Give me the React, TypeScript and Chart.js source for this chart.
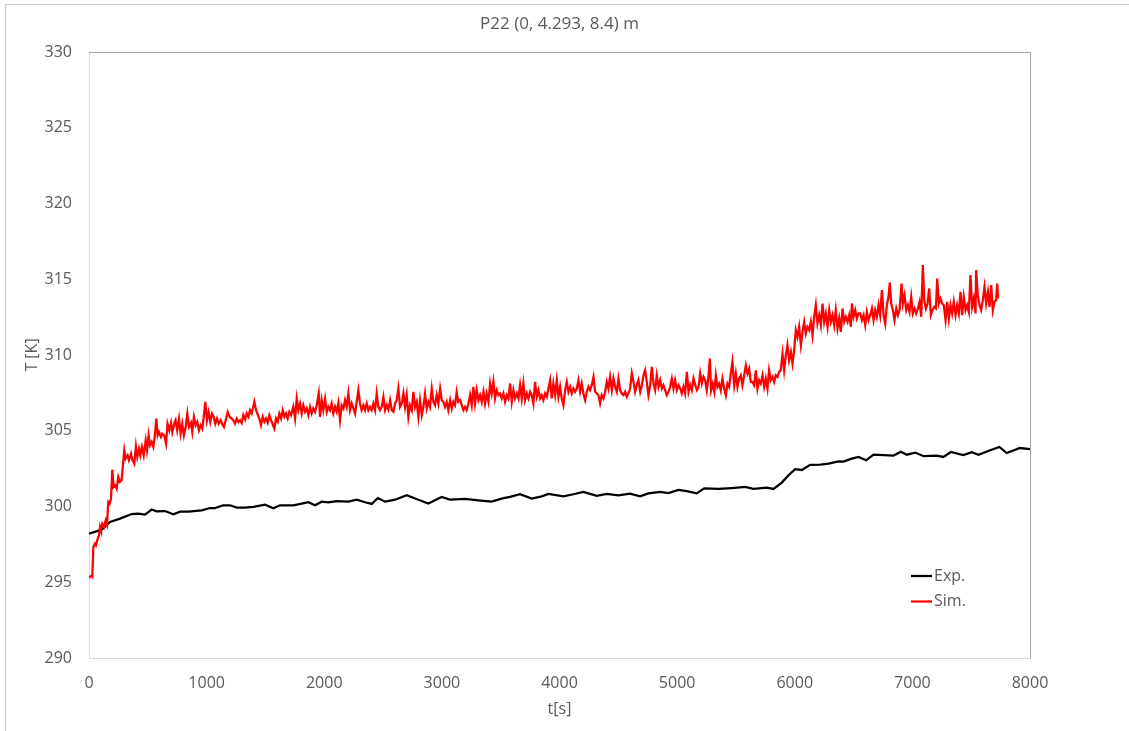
import React, { useEffect, useRef } from "react";
import { Chart, registerables } from "chart.js";

Chart.register(...registerables);

const chartTitle = "P22 (0, 4.293, 8.4) m";
const xAxisTitle = "t[s]";
const yAxisTitle = "T [K]";
const seriesNames = ["Exp.", "Sim."];
const seriesColors = ["#000000", "#ff0000"];
const xTickValues = [0, 1000, 2000, 3000, 4000, 5000, 6000, 7000, 8000];
const yTickValues = [290, 295, 300, 305, 310, 315, 320, 325, 330];

// Experimental temperature [t (s), T (K)]
const expPoints: [number, number][] = [
  [0, 298.21], [108, 298.47], [179, 298.98], [264, 299.2], [363, 299.5], [420, 299.53], [476, 299.46],
  [533, 299.8], [575, 299.68], [646, 299.7], [717, 299.49], [774, 299.66], [845, 299.66], [958, 299.75],
  [1029, 299.9], [1071, 299.9], [1142, 300.08], [1199, 300.08], [1256, 299.93], [1326, 299.93],
  [1397, 299.97], [1497, 300.12], [1567, 299.88], [1624, 300.08], [1737, 300.08], [1808, 300.19],
  [1865, 300.28], [1922, 300.08], [1978, 300.32], [2035, 300.28], [2106, 300.36], [2205, 300.32],
  [2276, 300.45], [2347, 300.28], [2404, 300.17], [2455, 300.56], [2517, 300.32], [2574, 300.41],
  [2602, 300.45], [2701, 300.74], [2800, 300.45], [2885, 300.19], [2998, 300.63], [3069, 300.45],
  [3197, 300.5], [3310, 300.41], [3423, 300.32], [3508, 300.52], [3579, 300.63], [3664, 300.81],
  [3764, 300.52], [3849, 300.67], [3906, 300.83], [4033, 300.67], [4118, 300.81], [4203, 300.96],
  [4317, 300.7], [4402, 300.83], [4500, 300.74], [4600, 300.85], [4685, 300.67], [4756, 300.87],
  [4855, 300.96], [4926, 300.89], [5011, 301.09], [5082, 301.02], [5167, 300.87], [5230, 301.2],
  [5351, 301.16], [5465, 301.22], [5578, 301.29], [5649, 301.16], [5762, 301.25], [5819, 301.16],
  [5890, 301.58], [5947, 302.06], [6003, 302.46], [6060, 302.41], [6131, 302.75], [6216, 302.77],
  [6287, 302.83], [6372, 302.98], [6414, 302.97], [6485, 303.16], [6542, 303.27], [6607, 303.05],
  [6670, 303.42], [6840, 303.36], [6902, 303.62], [6953, 303.42], [7024, 303.56], [7095, 303.32],
  [7208, 303.36], [7264, 303.27], [7327, 303.6], [7434, 303.4], [7505, 303.58], [7562, 303.42],
  [7661, 303.71], [7740, 303.93], [7802, 303.53], [7915, 303.86], [8000, 303.78],
];

// Simulated temperature [t (s), T (K)], in parts
const simPart1: [number, number][] = [
  [0, 295.3], [23, 295.45], [28, 295.39], [37, 297.33], [51, 297.55], [59, 297.44], [74, 297.88],
  [85, 298.1], [94, 298.65], [102, 298.43], [113, 298.87], [127, 298.65], [142, 299.09], [153, 298.82],
  [164, 300.3], [176, 300.19], [187, 300.52], [198, 302.43], [209, 301.29], [221, 301.4], [235, 301.18],
  [249, 301.95], [263, 301.62], [277, 301.73], [300, 303.71], [311, 303.16], [328, 303.38], [340, 303.05],
  [357, 303.49], [368, 303.1], [385, 302.83], [399, 303.98], [411, 303.27], [425, 303.82], [436, 303.38],
  [450, 303.93], [465, 303.38], [482, 304.37], [493, 303.71], [507, 304.7], [518, 304.04], [532, 304.26],
  [547, 303.93], [561, 304.77], [572, 305.8], [584, 304.7], [595, 304.92], [612, 304.59], [623, 304.81],
  [640, 304.7], [655, 304.15], [668, 305.47], [683, 305.03], [697, 305.52], [708, 304.92], [725, 305.47],
  [736, 305.69], [750, 305.03], [765, 305.8], [779, 304.81], [793, 305.47], [807, 304.7], [822, 305.25],
  [836, 306.13], [850, 305.25], [867, 305.52], [878, 304.92], [892, 305.91], [907, 305.36], [921, 305.58],
  [935, 305.03], [949, 305.36], [963, 305.14], [977, 306.02], [989, 306.9], [1003, 305.69], [1017, 306.24],
  [1031, 305.58], [1046, 306.13], [1060, 305.91], [1074, 305.47], [1088, 305.8], [1102, 305.47],
  [1119, 305.69], [1133, 305.43], [1147, 305.25], [1162, 305.69], [1179, 306.24], [1196, 305.91],
  [1213, 305.8], [1227, 305.69], [1241, 305.47], [1256, 305.8], [1270, 305.58],
];
const simPart2: [number, number][] = [
  [1284, 305.7], [1298, 305.52], [1312, 306.03], [1327, 305.74], [1341, 306.14], [1355, 305.92],
  [1369, 306.36], [1383, 306.14], [1406, 306.91], [1420, 306.36], [1431, 306.14], [1448, 305.81],
  [1462, 305.37], [1477, 305.92], [1491, 305.59], [1505, 305.81], [1519, 305.52], [1533, 306.03],
  [1548, 305.7], [1562, 305.43], [1576, 305.15], [1590, 305.81], [1604, 305.59], [1618, 306.14],
  [1633, 305.81], [1647, 306.36], [1661, 305.92], [1675, 306.14], [1689, 305.81], [1703, 306.25],
  [1718, 306.03], [1737, 306.58], [1752, 305.81], [1766, 307.13], [1780, 306.36], [1794, 306.8],
  [1808, 306.14], [1822, 306.69], [1837, 306.25], [1851, 306.47], [1865, 306.03], [1879, 306.58],
  [1893, 306.14], [1907, 306.47], [1922, 306.25], [1936, 306.69], [1953, 307.46], [1964, 305.92],
  [1978, 307.02], [1992, 306.36], [2007, 307.13], [2021, 306.25], [2035, 306.58], [2049, 306.36],
  [2063, 306.8], [2077, 306.14], [2092, 306.58], [2106, 306.25], [2120, 306.84], [2134, 305.7],
  [2148, 306.69], [2163, 306.47], [2177, 307.02], [2191, 306.58], [2205, 307.46], [2219, 306.36],
  [2233, 306.8], [2248, 306.47], [2262, 306.14], [2276, 306.91], [2290, 307.68], [2304, 306.8],
  [2318, 306.36], [2333, 306.69], [2347, 306.36], [2361, 306.8], [2375, 306.36], [2389, 306.58],
  [2403, 306.36], [2418, 306.8], [2432, 306.36], [2446, 307.46], [2460, 306.58], [2474, 306.36],
  [2489, 306.58], [2503, 307.24], [2517, 306.36], [2531, 306.69], [2545, 306.4], [2560, 307.02],
  [2574, 306.36], [2588, 306.25], [2602, 306.8], [2616, 307.02], [2630, 307.79], [2644, 306.58],
];
const simPart3: [number, number][] = [
  [2659, 306.8], [2673, 307.46], [2687, 306.58], [2701, 307.35], [2715, 305.92], [2729, 306.69],
  [2744, 306.36], [2758, 307.57], [2772, 306.58], [2786, 306.91], [2800, 305.92], [2814, 307.02],
  [2829, 306.03], [2843, 306.58], [2857, 307.46], [2871, 306.47], [2885, 306.91], [2899, 306.58],
  [2914, 307.79], [2928, 306.91], [2942, 306.69], [2956, 307.35], [2970, 306.8], [2985, 307.79],
  [2999, 307.02], [3013, 306.91], [3027, 306.58], [3041, 306.91], [3055, 306.36], [3070, 307.02],
  [3084, 306.47], [3098, 306.91], [3112, 306.69], [3126, 307.57], [3140, 306.91], [3155, 307.02],
  [3169, 306.69], [3183, 306.36], [3197, 306.58], [3211, 306.36], [3226, 306.8], [3240, 307.35],
  [3254, 306.69], [3268, 307.9], [3282, 306.8], [3296, 307.68], [3311, 307.02], [3325, 307.35],
  [3339, 306.91], [3353, 307.57], [3367, 306.8], [3381, 307.46], [3396, 306.91], [3410, 308.12],
  [3424, 307.46], [3438, 308.23], [3452, 307.13], [3466, 307.68], [3481, 307.35], [3495, 307.46],
  [3509, 307.13], [3523, 307.46], [3537, 306.91], [3552, 307.35], [3566, 307.13], [3580, 308.12],
  [3594, 306.91], [3608, 307.68], [3622, 307.13], [3637, 307.46], [3651, 307.13], [3665, 308.01],
  [3679, 307.13], [3693, 308.12], [3707, 307.02], [3722, 307.46], [3736, 307.13], [3750, 307.57],
  [3764, 307.35], [3778, 306.8], [3792, 308.23], [3807, 307.24], [3821, 307.68], [3835, 307.13],
  [3849, 307.35], [3863, 307.02], [3878, 307.46], [3892, 307.24], [3906, 307.79],
];
const simPart4: [number, number][] = [
  [3920, 308.34], [3934, 307.13], [3948, 308.12], [3963, 307.35], [3977, 308.34], [3991, 307.24],
  [4005, 307.9], [4019, 307.13], [4033, 306.69], [4048, 307.68], [4062, 308.23], [4076, 307.57],
  [4090, 307.9], [4104, 307.46], [4118, 307.79], [4133, 307.57], [4147, 307.79], [4161, 308.34],
  [4175, 307.57], [4189, 308.12], [4203, 307.46], [4218, 307.02], [4232, 307.57], [4246, 307.9],
  [4260, 307.68], [4274, 308.01], [4289, 308.56], [4303, 307.57], [4317, 307.46], [4331, 307.35],
  [4345, 306.8], [4359, 307.35], [4374, 307.13], [4388, 307.57], [4402, 308.23], [4416, 307.79],
  [4430, 308.56], [4445, 307.68], [4459, 308.45], [4473, 307.9], [4487, 307.57], [4501, 308.45],
  [4515, 307.68], [4530, 307.46], [4544, 307.35], [4558, 307.57], [4572, 307.24], [4586, 307.46],
  [4600, 307.79], [4615, 308.78], [4629, 308.23], [4643, 307.57], [4657, 308.01], [4671, 308.34],
  [4686, 307.57], [4700, 308.01], [4714, 308.67], [4728, 309.0], [4742, 308.23], [4756, 307.35],
  [4771, 308.01], [4785, 309.22], [4799, 308.12], [4813, 307.68], [4827, 308.67], [4842, 307.9],
  [4856, 308.34], [4870, 307.79], [4884, 308.01], [4898, 307.68], [4912, 307.35], [4927, 307.57],
  [4941, 307.9], [4955, 308.45], [4969, 307.79], [4983, 308.34], [4998, 307.68], [5012, 308.01],
  [5026, 307.79], [5040, 307.46], [5054, 307.9], [5068, 307.46], [5083, 308.89], [5097, 307.57],
  [5111, 308.01], [5125, 307.68], [5139, 308.45], [5154, 308.01], [5168, 307.68], [5182, 307.9],
  [5196, 308.78], [5210, 308.12], [5224, 308.56],
];
const simPart5: [number, number][] = [
  [5238, 308.33], [5252, 307.67], [5266, 308.55], [5278, 309.76], [5289, 307.67], [5303, 308.11],
  [5317, 307.56], [5329, 308.66], [5343, 307.89], [5357, 308.11], [5371, 307.67], [5385, 308.44],
  [5400, 307.78], [5414, 307.34], [5428, 308.11], [5442, 307.89], [5456, 308.77], [5470, 309.54],
  [5485, 308.0], [5499, 308.77], [5513, 307.89], [5527, 308.44], [5541, 308.66], [5555, 308.0],
  [5570, 308.66], [5584, 309.32], [5598, 308.77], [5612, 309.1], [5626, 308.22], [5640, 308.22],
  [5655, 308.0], [5669, 308.99], [5683, 307.78], [5697, 308.33], [5711, 308.11], [5726, 308.66],
  [5740, 307.89], [5754, 308.44], [5768, 307.78], [5782, 308.99], [5796, 308.33], [5811, 308.55],
  [5825, 308.22], [5839, 308.66], [5853, 308.55], [5867, 308.88], [5881, 308.99], [5896, 310.09],
  [5910, 308.99], [5924, 309.98], [5938, 310.65], [5952, 309.65], [5967, 310.2], [5981, 309.43],
  [5995, 310.31], [6009, 311.64], [6023, 311.2], [6037, 311.86], [6052, 310.65], [6066, 311.53],
  [6080, 312.19], [6094, 311.42], [6108, 311.86], [6123, 311.64], [6137, 312.19], [6151, 311.31],
  [6165, 312.52], [6179, 313.29], [6193, 312.08], [6208, 312.63], [6222, 311.97], [6236, 313.4],
  [6250, 312.19], [6264, 312.74], [6279, 311.86], [6293, 312.96], [6307, 312.19], [6321, 312.63],
  [6335, 311.97], [6349, 312.96], [6364, 311.75], [6378, 312.41], [6392, 311.53], [6406, 313.07],
  [6420, 312.19], [6434, 312.52], [6449, 312.19], [6463, 312.63], [6477, 311.86], [6486, 313.4],
  [6500, 312.52], [6514, 312.96], [6528, 312.41], [6542, 312.74],
];
const simPart6: [number, number][] = [
  [6556, 312.74], [6571, 312.3], [6585, 312.63], [6599, 311.97], [6613, 312.85], [6627, 312.3],
  [6641, 312.63], [6656, 313.07], [6670, 312.3], [6684, 312.96], [6698, 312.52], [6712, 313.29],
  [6726, 312.63], [6741, 314.28], [6755, 312.63], [6769, 312.08], [6783, 313.29], [6797, 313.84],
  [6808, 314.78], [6820, 313.4], [6834, 312.96], [6848, 312.3], [6863, 313.07], [6877, 312.63],
  [6891, 312.96], [6908, 314.72], [6919, 313.4], [6933, 313.95], [6948, 312.96], [6962, 313.29],
  [6976, 312.85], [6990, 313.84], [7004, 312.74], [7019, 313.07], [7033, 312.74], [7047, 313.07],
  [7061, 313.51], [7075, 312.52], [7089, 315.93], [7101, 313.62], [7115, 313.07], [7129, 313.4],
  [7143, 314.39], [7157, 312.63], [7171, 312.96], [7186, 313.18], [7200, 313.07], [7211, 315.05],
  [7225, 313.4], [7239, 313.73], [7253, 313.4], [7267, 313.29], [7282, 312.3], [7296, 313.51],
  [7310, 312.41], [7324, 313.29], [7338, 312.74], [7352, 313.51], [7367, 312.63], [7381, 313.29],
  [7395, 312.74], [7409, 314.17], [7423, 312.63], [7437, 313.84], [7452, 312.96], [7466, 313.29],
  [7480, 312.85], [7494, 315.27], [7508, 313.18], [7522, 313.73], [7537, 312.74], [7542, 315.6],
  [7556, 313.95], [7571, 313.29], [7585, 312.96], [7599, 313.62], [7613, 314.5], [7627, 313.4],
  [7642, 314.17], [7656, 313.18], [7670, 314.61], [7684, 312.96], [7698, 313.51], [7712, 313.62],
  [7721, 314.72], [7729, 313.73],
];

const FONT = "'Open Sans', 'DejaVu Sans', sans-serif";
const TEXT_COLOR = "#595959";

const toXY = (pts: [number, number][]) => pts.map(([x, y]) => ({ x, y }));

const framePlugin = {
  id: "frame",
  beforeDraw(chart: any) {
    const { ctx, width, height } = chart;
    ctx.save();
    ctx.fillStyle = "#ffffff";
    ctx.fillRect(0, 0, width, height);
    ctx.strokeStyle = "#c8c8c8";
    ctx.lineWidth = 1;
    ctx.beginPath();
    ctx.moveTo(5.5, height);
    ctx.lineTo(5.5, 4.5);
    ctx.lineTo(width, 4.5);
    ctx.stroke();
    ctx.restore();
  },
  beforeDatasetsDraw(chart: any) {
    const { ctx, chartArea } = chart;
    ctx.save();
    ctx.strokeStyle = "#a6a6a6";
    ctx.lineWidth = 1;
    ctx.beginPath();
    ctx.moveTo(chartArea.left, Math.round(chartArea.top) + 0.5);
    ctx.lineTo(Math.round(chartArea.right) + 0.5, Math.round(chartArea.top) + 0.5);
    ctx.lineTo(Math.round(chartArea.right) + 0.5, chartArea.bottom);
    ctx.stroke();
    ctx.restore();
  },
};

const legendPlugin = {
  id: "innerLegend",
  afterDraw(chart: any) {
    const { ctx } = chart;
    const rows = [576, 601.5];
    ctx.save();
    ctx.font = `16px ${FONT}`;
    ctx.textBaseline = "middle";
    ctx.textAlign = "left";
    seriesNames.forEach((name, i) => {
      const y = rows[i];
      ctx.strokeStyle = seriesColors[i];
      ctx.lineWidth = 2.25;
      ctx.beginPath();
      ctx.moveTo(911, y);
      ctx.lineTo(932, y);
      ctx.stroke();
      ctx.fillStyle = TEXT_COLOR;
      ctx.fillText(name, 934, y);
    });
    ctx.restore();
  },
};

export default function App() {
  const canvasRef = useRef<HTMLCanvasElement | null>(null);

  useEffect(() => {
    if (!canvasRef.current) return;
    const simPoints = [...simPart1, ...simPart2, ...simPart3, ...simPart4, ...simPart5, ...simPart6];
    const chart = new Chart(canvasRef.current, {
      type: "line",
      data: {
        datasets: [
          {
            label: seriesNames[0],
            data: toXY(expPoints),
            borderColor: seriesColors[0],
            borderWidth: 2.25,
            pointRadius: 0,
            tension: 0,
            order: 1,
          },
          {
            label: seriesNames[1],
            data: toXY(simPoints),
            borderColor: seriesColors[1],
            borderWidth: 2.25,
            pointRadius: 0,
            tension: 0,
            order: 0,
          },
        ],
      },
      options: {
        animation: false,
        responsive: false,
        devicePixelRatio: 1,
        parsing: false as any,
        normalized: true,
        layout: { padding: { left: 0, right: 99, top: 0, bottom: 0 } },
        plugins: {
          legend: { display: false },
          tooltip: { enabled: false },
          title: {
            display: true,
            fullSize: false,
            text: chartTitle,
            color: TEXT_COLOR,
            font: { family: FONT, size: 17, weight: "normal" },
            padding: { top: 14, bottom: 17.6 },
          },
        },
        scales: {
          x: {
            type: "linear",
            position: "bottom",
            min: 0,
            max: 8000,
            afterBuildTicks: (scale: any) => {
              scale.ticks = xTickValues.map((v) => ({ value: v }));
            },
            afterFit: (scale: any) => {
              scale.height = 73;
            },
            ticks: {
              color: TEXT_COLOR,
              font: { family: FONT, size: 16 },
              padding: 16,
              maxRotation: 0,
              autoSkip: false,
              callback: (v: any) => String(v),
            },
            grid: { display: false, drawTicks: false },
            border: { display: true, color: "#d9d9d9", width: 1 },
            title: {
              display: true,
              text: xAxisTitle,
              color: TEXT_COLOR,
              font: { family: FONT, size: 16 },
              padding: { top: 0, bottom: 12 },
            },
          },
          y: {
            type: "linear",
            min: 290,
            max: 330,
            afterBuildTicks: (scale: any) => {
              scale.ticks = yTickValues.map((v) => ({ value: v }));
            },
            afterFit: (scale: any) => {
              scale.width = 89;
            },
            ticks: {
              color: TEXT_COLOR,
              font: { family: FONT, size: 16 },
              padding: 17,
              autoSkip: false,
              callback: (v: any) => String(v),
            },
            grid: { display: false, drawTicks: false },
            border: { display: true, color: "#d9d9d9", width: 1 },
            title: {
              display: true,
              text: yAxisTitle,
              color: TEXT_COLOR,
              font: { family: FONT, size: 16 },
              padding: { top: 23, bottom: 0 },
            },
          },
        },
      },
      plugins: [framePlugin, legendPlugin],
    } as any);
    return () => chart.destroy();
  }, []);

  return (
    <div style={{ position: "fixed", left: 0, top: 0, width: 1129, height: 731, background: "#ffffff" }}>
      <canvas ref={canvasRef} width={1129} height={731} style={{ display: "block" }} />
    </div>
  );
}
